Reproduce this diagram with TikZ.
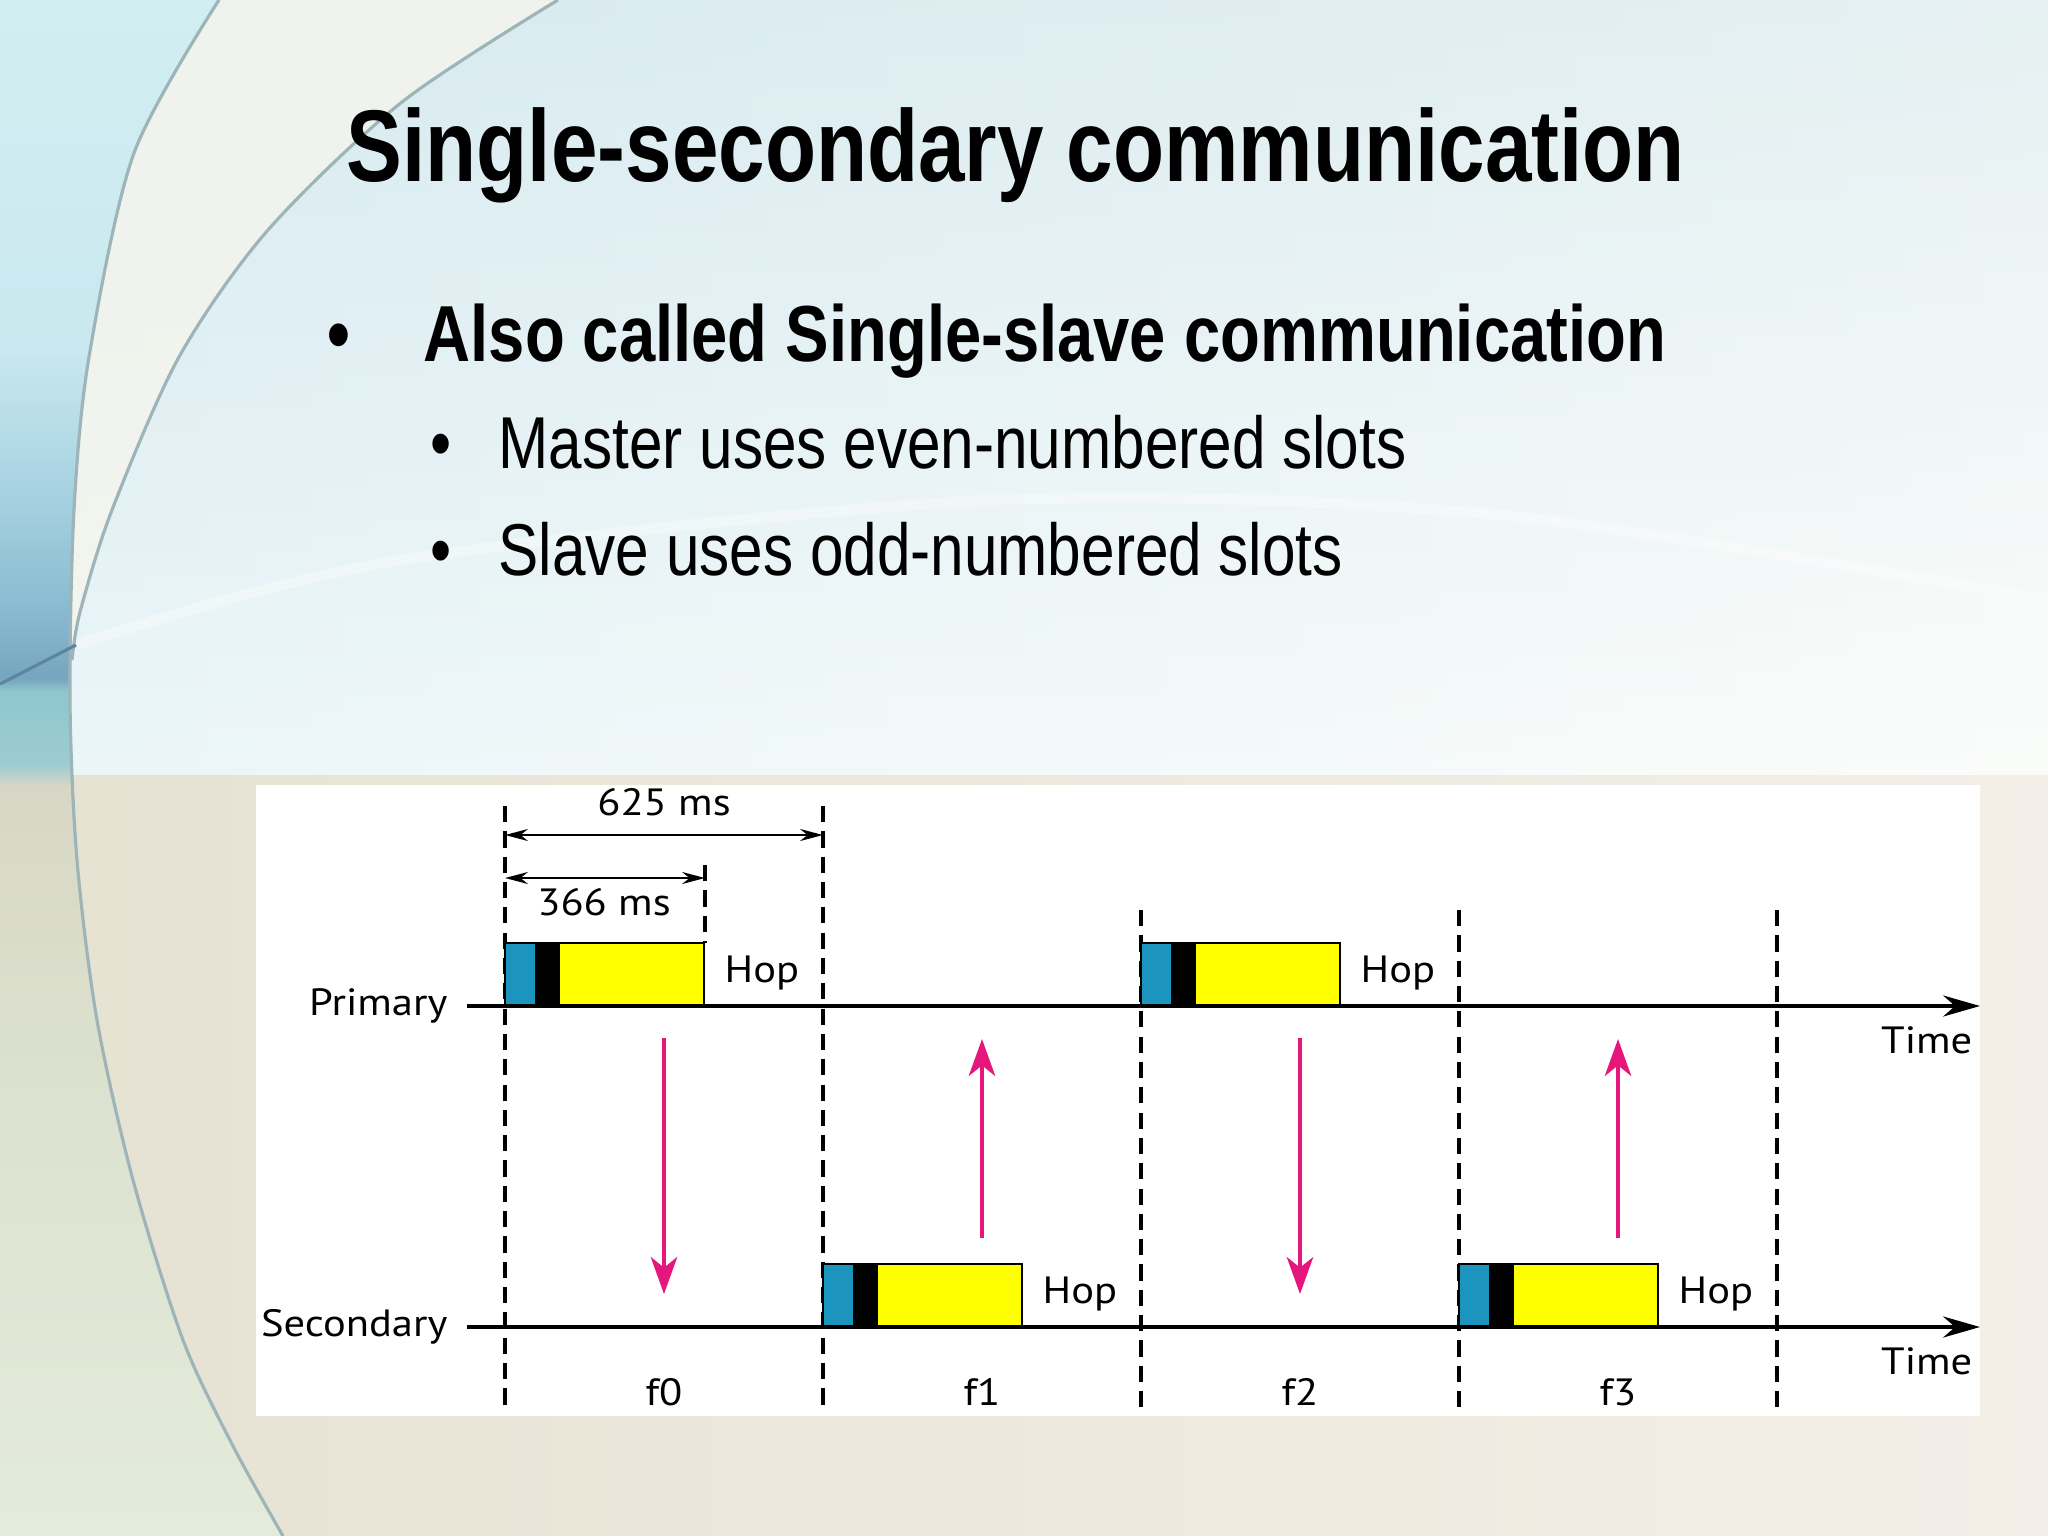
\documentclass[tikz,border=0pt]{standalone}
\usepackage{fontspec}
\setmainfont{Liberation Sans}
\newfontfamily\narrowfont[FakeStretch=0.82]{Liberation Sans}
\newfontfamily\figfont[FakeStretch=1.12]{PT Sans}
\usetikzlibrary{arrows.meta}

\definecolor{hopblue}{HTML}{1C95BE}
\definecolor{hopyellow}{HTML}{FFFF00}
\definecolor{hopmagenta}{HTML}{E6177C}
\definecolor{skyleft}{HTML}{D3EBF1}
\definecolor{skymid}{HTML}{E0EDF2}
\definecolor{skyright}{HTML}{F7FAF6}
\definecolor{skytop}{HTML}{D8E9EF}
\definecolor{sandleft}{HTML}{E6E2D2}
\definecolor{sandright}{HTML}{F3EFE8}
\definecolor{lensfill}{HTML}{F7F5EC}
\definecolor{curvegray}{HTML}{9DB4B8}
\definecolor{stripA}{HTML}{D2EEF2}
\definecolor{stripB}{HTML}{C9E8EF}
\definecolor{stripC}{HTML}{AAD4E3}
\definecolor{stripD}{HTML}{8CBDD2}
\definecolor{stripE}{HTML}{76A6BF}
\definecolor{stripF}{HTML}{8FC6CF}
\definecolor{stripG}{HTML}{9DCCD1}
\definecolor{stripH}{HTML}{D8D7C5}
\definecolor{stripI}{HTML}{DCE2CF}
\definecolor{stripJ}{HTML}{E3EBDB}

% left strip of the slide background
\pgfdeclareverticalshading{leftstrip}{100bp}{%
  color(0bp)=(stripJ); color(25bp)=(stripJ);
  color(39.2bp)=(stripI); color(49.4bp)=(stripH);
  color(50.1bp)=(stripG); color(52.5bp)=(stripF);
  color(52.9bp)=(stripE); color(55.5bp)=(stripD);
  color(59.4bp)=(stripC); color(63.6bp)=(stripB);
  color(75bp)=(stripA); color(100bp)=(stripA)}

\newcommand{\hoppacket}[2]{%
  \fill[hopblue] (#1,#2) rectangle ++(30,-63);
  \fill[black] (#1,#2) ++(30,0) rectangle ++(25,-63);
  \fill[hopyellow] (#1,#2) ++(55,0) rectangle ++(144,-63);
  \draw[line width=0.7pt] (#1,#2) rectangle ++(199,-63);
}

\tikzset{
  slotline/.style={line width=0.95pt, dash pattern=on 4.6pt off 2.6pt},
  timeaxis/.style={line width=0.9pt, -{Stealth[length=10.5pt, width=6pt]}},
  hoparrow/.style={hopmagenta, line width=1.1pt, -{Stealth[length=10.5pt, width=7.5pt, inset=3pt]}},
  dimarrow/.style={line width=0.7pt, {Stealth[length=6.5pt, width=3.4pt]}-{Stealth[length=6.5pt, width=3.4pt]}},
  figlabel/.style={font=\figfont\fontsize{10.8}{13}\selectfont, inner sep=0pt},
  headline/.style={font=\narrowfont\bfseries\fontsize{29}{34}\selectfont, inner sep=0pt, anchor=base west},
  mainpoint/.style={font=\narrowfont\bfseries\fontsize{22.6}{26}\selectfont, inner sep=0pt},
  subpoint/.style={font=\narrowfont\fontsize{20.9}{25}\selectfont, inner sep=0pt},
}

\begin{document}
\begin{tikzpicture}[x = 0.01cm, y = -0.01cm]
	\useasboundingbox (0,0) rectangle (2048,1536);

	% Background
	\shade[left color=skyleft, middle color=skymid, right color=skyright] (0,0) rectangle (2048,780);
	\shade[top color=skytop, bottom color=white, opacity=0.55] (0,0) rectangle (2048,780);
	\shade[left color=sandleft, right color=sandright] (0,775) rectangle (2048,1536);
	\fill[lensfill, opacity=0.75] plot[smooth] coordinates {(219,0) (134,153) (89,357) (74,510) (72,660)}
		-- plot[smooth] coordinates {(80,612) (112,510) (179,357) (268,230) (402,102) (558,0)} -- cycle;
	\shade[shading=leftstrip] plot[smooth] coordinates {(219,0) (134,153) (89,357) (74,510) (70,700) (77,860) (97,1020) (133,1180) (183,1340) (233,1446) (283,1536)}
		-- (0,1536) -- (0,0) -- cycle;
	\draw[white, line width=3pt, opacity=0.35] plot[smooth] coordinates {(76,645) (400,560) (1000,500) (1500,515) (2048,600)};
	\draw[curvegray, line width=0.9pt] plot[smooth] coordinates {(219,0) (134,153) (89,357) (74,510) (70,700) (77,860) (97,1020) (133,1180) (183,1340) (233,1446) (283,1536)};
	\draw[curvegray, line width=0.9pt] plot[smooth] coordinates {(558,0) (402,102) (268,230) (179,357) (112,510) (80,612) (72,660)};
	\draw[stripE!80!black, line width=0.9pt] (0,684) -- (76,645);

	% Slide text
	\node[headline] (title) at (346,181) {Single-secondary communication};
	\node[mainpoint, anchor=base] (dot1) at (339,361) {•};
	\node[mainpoint, anchor=base west] (point1) at (423,361) {Also called Single-slave communication};
	\node[subpoint, anchor=base] (dot2) at (441,468) {•};
	\node[subpoint, anchor=base west] (point2) at (498,468) {Master uses even-numbered slots};
	\node[subpoint, anchor=base] (dot3) at (441,575) {•};
	\node[subpoint, anchor=base west] (point3) at (498,575) {Slave uses odd-numbered slots};

	% Figure panel
	\fill[white] (256,785) rectangle (1980,1416);

	% Coordinates
	\coordinate (s0top) at (505,806);  \coordinate (s0bot) at (505,1410);
	\coordinate (s1top) at (823,806);  \coordinate (s1bot) at (823,1410);
	\coordinate (s2top) at (1141,910); \coordinate (s2bot) at (1141,1410);
	\coordinate (s3top) at (1459,910); \coordinate (s3bot) at (1459,1410);
	\coordinate (s4top) at (1777,910); \coordinate (s4bot) at (1777,1410);
	\coordinate (tick366top) at (705,865); \coordinate (tick366bot) at (705,943);
	\coordinate (w625l) at (505,835); \coordinate (w625r) at (823,835);
	\coordinate (w366l) at (505,878); \coordinate (w366r) at (705,878);
	\coordinate (pstart) at (467,1006); \coordinate (pend) at (1980,1006);
	\coordinate (sstart) at (467,1327); \coordinate (send) at (1980,1327);
	\coordinate (d0top) at (664,1038); \coordinate (d0bot) at (664,1294);
	\coordinate (u1bot) at (982,1238); \coordinate (u1top) at (982,1039);
	\coordinate (d2top) at (1300,1038); \coordinate (d2bot) at (1300,1294);
	\coordinate (u3bot) at (1618,1238); \coordinate (u3top) at (1618,1039);

	% Slot boundaries
	\draw[slotline] (s0top) -- (s0bot);
	\draw[slotline] (s1top) -- (s1bot);
	\draw[slotline] (s2top) -- (s2bot);
	\draw[slotline] (s3top) -- (s3bot);
	\draw[slotline] (s4top) -- (s4bot);
	\draw[slotline] (tick366top) -- (tick366bot);

	% Packets
	\hoppacket{505}{1006}
	\hoppacket{1141}{1006}
	\hoppacket{823}{1327}
	\hoppacket{1459}{1327}

	% Nodes
	\node[figlabel, anchor=base east] (primary) at (448,1015) {Primary};
	\node[figlabel, anchor=base east] (secondary) at (448,1336) {Secondary};
	\node[figlabel, anchor=base east] (time1) at (1973,1053) {Time};
	\node[figlabel, anchor=base east] (time2) at (1973,1374) {Time};
	\node[figlabel, anchor=base] (w625) at (664,815) {625 ms};
	\node[figlabel, anchor=base] (w366) at (604,915) {366 ms};
	\node[figlabel, anchor=base west] (hop0) at (724,982) {Hop};
	\node[figlabel, anchor=base west] (hop2) at (1360,982) {Hop};
	\node[figlabel, anchor=base west] (hop1) at (1042,1303) {Hop};
	\node[figlabel, anchor=base west] (hop3) at (1678,1303) {Hop};
	\node[figlabel, anchor=base] (f0) at (664,1405) {f0};
	\node[figlabel, anchor=base] (f1) at (982,1405) {f1};
	\node[figlabel, anchor=base] (f2) at (1300,1405) {f2};
	\node[figlabel, anchor=base] (f3) at (1618,1405) {f3};

	% Edges
	\draw[timeaxis] (pstart) -- (pend);
	\draw[timeaxis] (sstart) -- (send);
	\draw[dimarrow] (w625l) -- (w625r);
	\draw[dimarrow] (w366l) -- (w366r);
	\draw[hoparrow] (d0top) -- (d0bot);
	\draw[hoparrow] (u1bot) -- (u1top);
	\draw[hoparrow] (d2top) -- (d2bot);
	\draw[hoparrow] (u3bot) -- (u3top);
\end{tikzpicture}
\end{document}
